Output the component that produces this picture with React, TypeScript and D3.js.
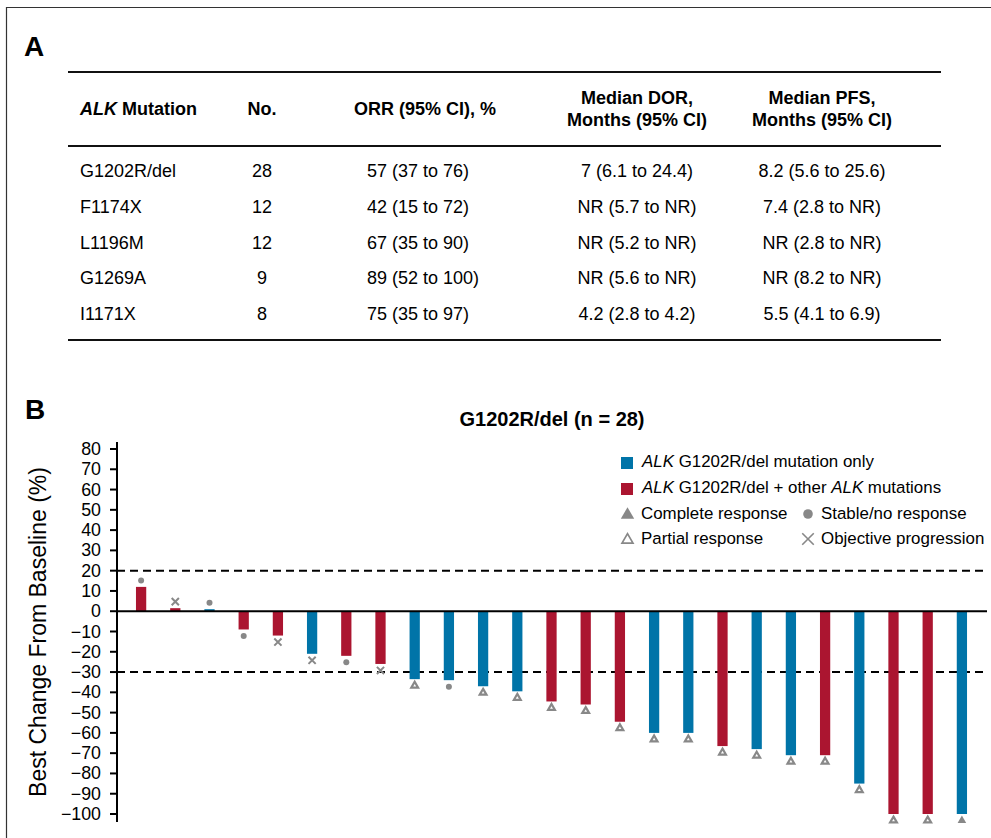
import React from "react";
import * as d3 from "d3";

// table (panel A)
const mutations = ["G1202R/del", "F1174X", "L1196M", "G1269A", "I1171X"];
const patientCounts = [28, 12, 12, 9, 8];
const orrCI = ["57 (37 to 76)", "42 (15 to 72)", "67 (35 to 90)", "89 (52 to 100)", "75 (35 to 97)"];
const dorCI = ["7 (6.1 to 24.4)", "NR (5.7 to NR)", "NR (5.2 to NR)", "NR (5.6 to NR)", "4.2 (2.8 to 4.2)"];
const pfsCI = ["8.2 (5.6 to 25.6)", "7.4 (2.8 to NR)", "NR (2.8 to NR)", "NR (8.2 to NR)", "5.5 (4.1 to 6.9)"];

// waterfall (panel B)
const bestChange = [
  12, 1.5, 1, -9, -12, -21, -22, -26, -33.5, -34, -37, -39.5, -44.5,
  -46, -54.5, -60, -60, -66.5, -68, -71, -71, -85, -100, -100, -100,
];
// B = G1202R/del only, R = + other ALK mutations
const mutationGroup = [
  "R", "R", "B", "R", "R", "B", "R", "R", "B", "B", "B", "B", "R",
  "R", "R", "B", "B", "R", "B", "B", "R", "B", "R", "R", "B",
];
// CR complete, PR partial, SD stable/no response, PD objective progression
const bestResponse = [
  "SD", "PD", "SD", "SD", "PD", "PD", "SD", "PD", "PR", "SD", "PR", "PR", "PR",
  "PR", "PR", "PR", "PR", "PR", "PR", "PR", "PR", "PR", "PR", "PR", "CR",
];
const yTicks = d3.range(-100, 81, 10);

const FONT = "'Liberation Sans', Arial, Helvetica, sans-serif";
const BLUE = "#0074a8";
const RED = "#ab1530";
const GRAY = "#888888";

const Marker = ({ type, x, y, big }: { type: string; x: number; y: number; big?: boolean }) => {
  const k = big ? 1.6 : 1;
  if (type === "SD") return <circle cx={x} cy={y} r={3 * k} fill={GRAY} />;
  if (type === "PD") {
    const s = 3.6 * k;
    return (
      <path
        d={`M${x - s},${y - s}L${x + s},${y + s}M${x - s},${y + s}L${x + s},${y - s}`}
        stroke={GRAY}
        strokeWidth={big ? 1.6 : 2}
      />
    );
  }
  if (type === "CR") {
    const tri = d3.symbol().type(d3.symbolTriangle).size(big ? 78 : 32)();
    return <path d={tri ?? ""} transform={`translate(${x},${y})`} fill={GRAY} />;
  }
  const tri = d3.symbol().type(d3.symbolTriangle).size(big ? 52 : 20)();
  return (
    <path
      d={tri ?? ""}
      transform={`translate(${x},${y})`}
      fill="#fff"
      stroke={GRAY}
      strokeWidth={big ? 1.7 : 2.2}
    />
  );
};

const App = () => {
  const width = 991;
  const height = 838;

  // panel A layout
  const tableLeft = 68;
  const tableRight = 941;
  const rowY = d3.scaleLinear().domain([0, 4]).range([177, 320]);

  // panel B scales
  const x = d3
    .scaleBand<number>()
    .domain(d3.range(bestChange.length))
    .range([124, 979])
    .paddingInner(0.7)
    .paddingOuter(0.35);
  const y = d3.scaleLinear().domain([-100, 80]).range([814, 449]);
  const axisX = 117;
  const plotRight = 987;

  return (
    <>
      <style>{"body{margin:0}"}</style>
      <svg width={width} height={height} style={{ display: "block", fontFamily: FONT }}>
        <rect width={width} height={height} fill="#fff" />
        {/* frame */}
        <path d={`M6.5,${height}V7.5H${width}`} fill="none" stroke="#333" strokeWidth={1.2} />

        {/* ---------- Panel A ---------- */}
        <text x={24} y={56} fontSize={28} fontWeight="bold">A</text>
        <g stroke="#111" strokeWidth={2}>
          <line x1={tableLeft} x2={tableRight} y1={72} y2={72} />
          <line x1={tableLeft} x2={tableRight} y1={146} y2={146} />
          <line x1={tableLeft} x2={tableRight} y1={340} y2={340} />
        </g>
        <g fontSize={18} fontWeight="bold" fill="#000">
          <text x={80} y={115}>
            <tspan fontStyle="italic">ALK</tspan> Mutation
          </text>
          <text x={262} y={115} textAnchor="middle">No.</text>
          <text x={425} y={115} textAnchor="middle">ORR (95% CI), %</text>
          <text x={637} y={104} textAnchor="middle">Median DOR,</text>
          <text x={637} y={126} textAnchor="middle">Months (95% CI)</text>
          <text x={822} y={104} textAnchor="middle">Median PFS,</text>
          <text x={822} y={126} textAnchor="middle">Months (95% CI)</text>
        </g>
        <g fontSize={18} fill="#000">
          {mutations.map((m, i) => (
            <g key={m}>
              <text x={80} y={rowY(i)}>{m}</text>
              <text x={262} y={rowY(i)} textAnchor="middle">{patientCounts[i]}</text>
              <text x={367} y={rowY(i)}>{orrCI[i]}</text>
              <text x={637} y={rowY(i)} textAnchor="middle">{dorCI[i]}</text>
              <text x={822} y={rowY(i)} textAnchor="middle">{pfsCI[i]}</text>
            </g>
          ))}
        </g>

        {/* ---------- Panel B ---------- */}
        <text x={25} y={419} fontSize={28} fontWeight="bold">B</text>
        <text x={552} y={426} fontSize={20} fontWeight="bold" textAnchor="middle">
          G1202R/del (n = 28)
        </text>

        {/* y axis */}
        <text
          transform={`translate(46,632) rotate(-90)`}
          fontSize={23}
          textAnchor="middle"
          fill="#000"
        >
          Best Change From Baseline (%)
        </text>
        <line x1={axisX} x2={axisX} y1={y(80) - 7} y2={y(-100) + 8} stroke="#000" strokeWidth={2} />
        {yTicks.map((t) => (
          <g key={t}>
            <line x1={axisX - 7} x2={axisX} y1={y(t)} y2={y(t)} stroke="#000" strokeWidth={2} />
            <text x={101} y={y(t) + 6} fontSize={17.8} textAnchor="end" fill="#000">
              {d3.format("d")(t)}
            </text>
          </g>
        ))}

        {/* reference lines */}
        <line x1={axisX} x2={plotRight} y1={y(20)} y2={y(20)} stroke="#000" strokeWidth={2} strokeDasharray="8,5" />
        <line x1={axisX} x2={plotRight} y1={y(-30)} y2={y(-30)} stroke="#000" strokeWidth={2} strokeDasharray="8,5" />

        {/* bars */}
        {bestChange.map((v, i) => (
          <rect
            key={i}
            x={x(i)}
            width={x.bandwidth()}
            y={Math.min(y(v), y(0))}
            height={Math.abs(y(v) - y(0))}
            fill={mutationGroup[i] === "B" ? BLUE : RED}
          />
        ))}
        <line x1={axisX} x2={plotRight} y1={y(0)} y2={y(0)} stroke="#000" strokeWidth={2} />

        {/* response markers */}
        {bestChange.map((v, i) => (
          <Marker
            key={i}
            type={bestResponse[i]}
            x={(x(i) ?? 0) + x.bandwidth() / 2}
            y={y(v) + (v >= 0 ? -6.5 : 6.5)}
          />
        ))}

        {/* legend */}
        <g fontSize={16.9} fill="#000">
          <rect x={621} y={457} width={12} height={12} fill={BLUE} />
          <text x={642} y={467}>
            <tspan fontStyle="italic">ALK</tspan> G1202R/del mutation only
          </text>
          <rect x={621} y={483} width={12} height={12} fill={RED} />
          <text x={642} y={493}>
            <tspan fontStyle="italic">ALK</tspan> G1202R/del + other{" "}
            <tspan fontStyle="italic">ALK</tspan> mutations
          </text>
          <Marker type="CR" x={627.5} y={515} big />
          <text x={641} y={519}>Complete response</text>
          <Marker type="PR" x={627.5} y={540} big />
          <text x={641} y={544}>Partial response</text>
          <Marker type="SD" x={808} y={514} big />
          <text x={821} y={519}>Stable/no response</text>
          <Marker type="PD" x={808} y={539} big />
          <text x={821} y={544}>Objective progression</text>
        </g>
      </svg>
    </>
  );
};

export default App;
